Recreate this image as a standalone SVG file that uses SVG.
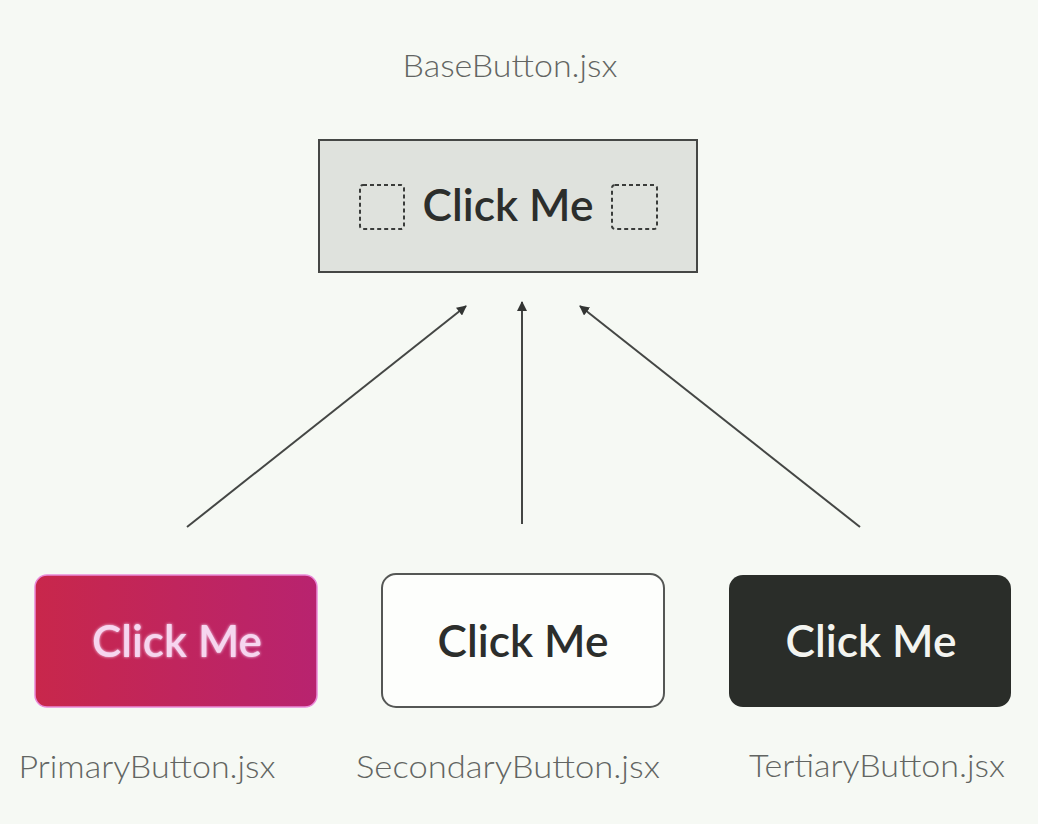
<svg xmlns="http://www.w3.org/2000/svg" width="1038" height="824" viewBox="0 0 1038 824">
  <defs>
    <style>
      .lbl { font-family: Lato, "Liberation Sans", sans-serif; font-weight: 300; font-size: 32px; fill: #626562; }
      .btn { font-family: Lato, "Liberation Sans", sans-serif; font-weight: 600; font-size: 44px; }
      .conn { stroke: #444644; stroke-width: 2; fill: none; marker-end: url(#arrow); }
      .slot { fill: none; stroke: #3a3c3a; stroke-width: 2; stroke-dasharray: 4 3; }
    </style>
    <marker id="arrow" viewBox="0 0 10 10" refX="9" refY="5" markerWidth="10" markerHeight="10" orient="auto" markerUnits="userSpaceOnUse">
      <path d="M0,0 L10,5 L0,10 z" fill="#333533"/>
    </marker>
    <linearGradient id="pg" x1="0" y1="0" x2="1" y2="0">
      <stop offset="0" stop-color="#c8274b"/>
      <stop offset="1" stop-color="#b8236f"/>
    </linearGradient>
    <filter id="glow" x="-10%" y="-30%" width="120%" height="160%">
      <feGaussianBlur stdDeviation="1.5" result="b"/>
      <feMerge><feMergeNode in="b"/><feMergeNode in="SourceGraphic"/></feMerge>
    </filter>
  </defs>
  <rect width="1038" height="824" fill="#f6f9f4"/>

  <g id="base">
    <text class="lbl" x="510" y="77" text-anchor="middle" textLength="215" lengthAdjust="spacingAndGlyphs">BaseButton.jsx</text>
    <rect x="319" y="140" width="378" height="132" fill="#dfe2dd" stroke="#454745" stroke-width="2"/>
    <rect class="slot" x="360" y="185" width="44" height="44" rx="3"/>
    <rect class="slot" x="612" y="185" width="45" height="44" rx="3"/>
    <text class="btn" x="508" y="221" text-anchor="middle" fill="#2c2e2c" textLength="171" lengthAdjust="spacingAndGlyphs">Click Me</text>
  </g>

  <g id="connectors">
    <line class="conn" x1="187" y1="527" x2="466" y2="306"/>
    <line class="conn" x1="522" y1="524" x2="522" y2="302"/>
    <line class="conn" x1="860" y1="527" x2="580" y2="306"/>
  </g>

  <g id="primary">
    <rect x="35" y="575" width="282" height="132" rx="12" fill="url(#pg)" stroke="#e98ad8" stroke-width="1.5"/>
    <text class="btn" x="177" y="657" text-anchor="middle" fill="#f6d6ef" filter="url(#glow)" textLength="170" lengthAdjust="spacingAndGlyphs">Click Me</text>
    <text class="lbl" x="147" y="778" text-anchor="middle" textLength="257" lengthAdjust="spacingAndGlyphs">PrimaryButton.jsx</text>
  </g>

  <g id="secondary">
    <rect x="382" y="574" width="282" height="133" rx="14" fill="#fdfefc" stroke="#555755" stroke-width="2"/>
    <text class="btn" x="523" y="657" text-anchor="middle" fill="#2c2e2c" textLength="171" lengthAdjust="spacingAndGlyphs">Click Me</text>
    <text class="lbl" x="508" y="778" text-anchor="middle" textLength="304" lengthAdjust="spacingAndGlyphs">SecondaryButton.jsx</text>
  </g>

  <g id="tertiary">
    <rect x="729" y="575" width="282" height="132" rx="14" fill="#2a2d29"/>
    <text class="btn" x="871" y="657" text-anchor="middle" fill="#f3f4f0" textLength="171" lengthAdjust="spacingAndGlyphs">Click Me</text>
    <text class="lbl" x="877" y="777" text-anchor="middle" textLength="256" lengthAdjust="spacingAndGlyphs">TertiaryButton.jsx</text>
  </g>
</svg>
